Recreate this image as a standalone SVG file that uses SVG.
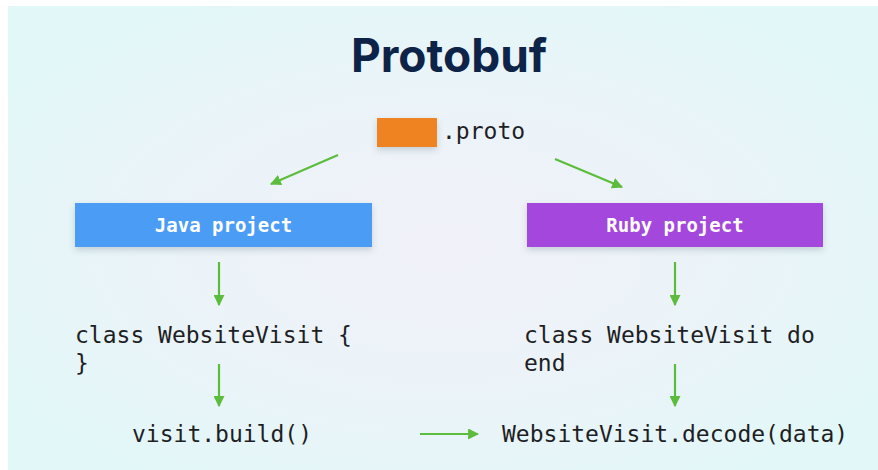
<svg xmlns="http://www.w3.org/2000/svg" width="878" height="470" viewBox="0 0 878 470">
  <defs>
    <radialGradient id="bg" cx="0.5" cy="0.52" r="0.6">
      <stop offset="0" stop-color="#f1f1f9"/>
      <stop offset="0.6" stop-color="#eaf4f8"/>
      <stop offset="1" stop-color="#e2f7f8"/>
    </radialGradient>
    <filter id="shadow" x="-10%" y="-30%" width="120%" height="170%">
      <feDropShadow dx="0" dy="3" stdDeviation="3" flood-color="#3a4a5a" flood-opacity="0.22"/>
    </filter>
    <marker id="arrow" viewBox="0 0 10 10" refX="9" refY="5" markerWidth="5" markerHeight="5" orient="auto" markerUnits="strokeWidth">
      <path d="M0,0 L10,5 L0,10 Z" fill="#5cbd3c"/>
    </marker>
    <style>
      .title { font-family: Inter, "Liberation Sans", sans-serif; font-weight: 700; font-size: 46px; fill: #0d2348; }
      .code { font-family: "DejaVu Sans Mono", "Liberation Mono", monospace; font-size: 23px; fill: #1e1f24; }
      .label { font-family: "DejaVu Sans Mono", "Liberation Mono", monospace; font-weight: 700; font-size: 19px; fill: #ffffff; }
      .edge { stroke: #5cbd3c; stroke-width: 2.2; fill: none; marker-end: url(#arrow); }
    </style>
  </defs>

  <!-- page -->
  <rect x="0" y="0" width="878" height="470" fill="#ffffff"/>
  <rect x="8" y="6" width="870" height="464" fill="url(#bg)"/>

  <text class="title" x="449" y="72" text-anchor="middle">Protobuf</text>

  <g id="proto">
    <rect x="377" y="118" width="60" height="29" fill="#ef8322" filter="url(#shadow)"/>
    <text class="code" x="442" y="139" font-size="22">.proto</text>
  </g>

  <g id="java">
    <rect x="75" y="203" width="297" height="44" fill="#4b9cf5" filter="url(#shadow)"/>
    <text class="label" x="223.5" y="232" text-anchor="middle">Java project</text>
  </g>

  <g id="ruby">
    <rect x="527" y="203" width="296" height="44" fill="#a446dc" filter="url(#shadow)"/>
    <text class="label" x="675" y="232" text-anchor="middle">Ruby project</text>
  </g>

  <g id="java-class">
    <text class="code" x="75" y="343">class WebsiteVisit {</text>
    <text class="code" x="75" y="371">}</text>
  </g>

  <g id="ruby-class">
    <text class="code" x="524" y="343">class WebsiteVisit do</text>
    <text class="code" x="524" y="371">end</text>
  </g>

  <g id="build">
    <text class="code" x="132" y="442">visit.build()</text>
  </g>

  <g id="decode">
    <text class="code" x="502" y="442">WebsiteVisit.decode(data)</text>
  </g>

  <g id="connectors">
    <line class="edge" x1="338" y1="155" x2="271" y2="184"/>
    <line class="edge" x1="555" y1="159" x2="622" y2="187"/>
    <line class="edge" x1="219" y1="262" x2="219" y2="305"/>
    <line class="edge" x1="675" y1="262" x2="675" y2="305"/>
    <line class="edge" x1="219" y1="364" x2="219" y2="406"/>
    <line class="edge" x1="675" y1="364" x2="675" y2="406"/>
    <line class="edge" x1="420" y1="434" x2="478" y2="434"/>
  </g>
</svg>
